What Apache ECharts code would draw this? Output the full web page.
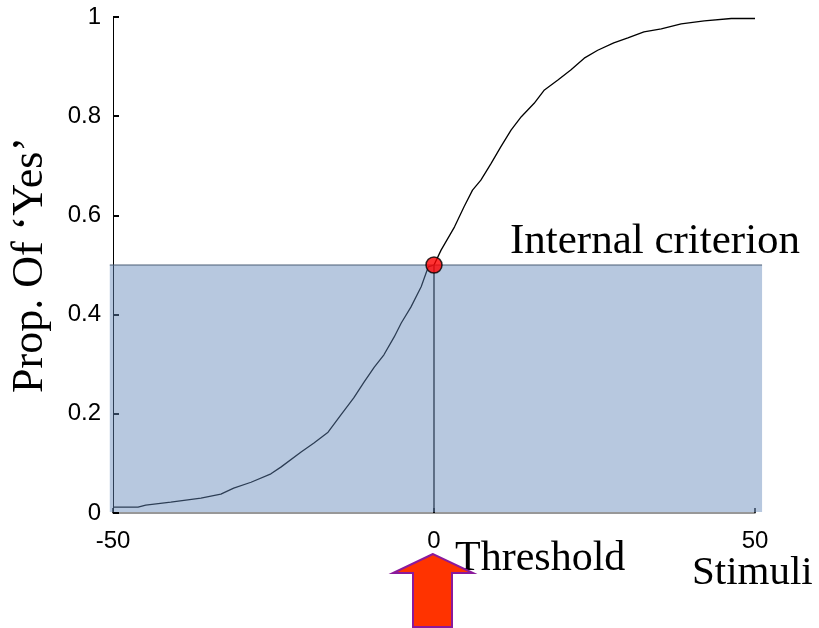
<!DOCTYPE html>
<html>
<head>
<meta charset="utf-8">
<script src="https://cdn.jsdelivr.net/npm/echarts@6/dist/echarts.min.js"></script>
<style>
  html, body { margin: 0; padding: 0; background: #fff; }
  #chart { width: 819px; height: 628px; }
</style>
</head>
<body>
<div id="chart"></div>
<script>
// psychometric curve
const stimX = [-50, -46.1, -44.9, -41, -36.3, -33.2, -31.2, -28.5, -25.4, -23.8, -20.7, -18.7, -16.5,
  -14.5, -12.5, -10.9, -9.3, -7.8, -6.2, -5.1, -3.6, -2.0, -0.9, 0, 1.1, 3.2, 4.7, 6.0, 7.3, 8.9,
  10.4, 12.0, 13.6, 15.6, 17.2, 19.3, 21.3, 23.4, 25.5, 28.0, 30.2, 32.7, 35.4, 38.5, 42.1, 46.3, 50];
const propYes = [0.012, 0.012, 0.016, 0.022, 0.030, 0.038, 0.050, 0.062, 0.079, 0.093, 0.123, 0.141, 0.163,
  0.198, 0.232, 0.264, 0.294, 0.319, 0.355, 0.383, 0.415, 0.456, 0.496, 0.5, 0.530, 0.577, 0.618, 0.651,
  0.671, 0.705, 0.738, 0.772, 0.799, 0.826, 0.853, 0.873, 0.893, 0.917, 0.933, 0.948, 0.958, 0.970,
  0.976, 0.986, 0.992, 0.997, 0.997];

const xTicks = [-50, 0, 50];
const criterion = 0.5;           // internal criterion level
const threshold = 0;             // stimulus at threshold
const criterionSpan = [-50.5, 51.1];

const chart = echarts.init(document.getElementById("chart"));

// shaded box below the criterion, drawn through the axes
function renderBox(params, api) {
  const p0 = api.coord([criterionSpan[0], criterion]);
  const p1 = api.coord([criterionSpan[1], 0]);
  return {
    type: "group",
    children: [
      {
        type: "rect",
        shape: { x: p0[0], y: p0[1], width: p1[0] - p0[0], height: p1[1] - p0[1] - 1 },
        style: { fill: "rgba(98,135,185,0.46)" }
      },
      {
        type: "line",
        shape: { x1: p0[0], y1: p0[1], x2: p1[0], y2: p0[1] },
        style: { stroke: "#4a5c75", lineWidth: 1 }
      }
    ]
  };
}

const option = {
  animation: false,
  grid: { left: 113, right: 64, top: 17, bottom: 115, outerBoundsMode: "none", containLabel: false },
  xAxis: {
    type: "value",
    min: xTicks[0],
    max: xTicks[xTicks.length - 1],
    interval: 50,
    splitLine: { show: false },
    axisLine: { onZero: false, lineStyle: { color: "#777", width: 1.5 } },
    axisTick: { inside: true, length: 5, lineStyle: { color: "#000", width: 1.5 } },
    axisLabel: { color: "#000", fontSize: 24, fontFamily: "Liberation Sans", margin: 16 }
  },
  yAxis: {
    type: "value",
    min: 0,
    max: 1,
    interval: 0.2,
    name: "Prop. Of \u2018Yes\u2019",
    nameLocation: "middle",
    nameRotate: 90,
    nameGap: 61,
    nameTextStyle: { color: "#000", fontSize: 44, fontFamily: "Liberation Serif" },
    splitLine: { show: false },
    axisLine: { onZero: false, lineStyle: { color: "#000", width: 1 } },
    axisTick: { inside: true, length: 6, lineStyle: { color: "#000", width: 2 } },
    axisLabel: { color: "#000", fontSize: 24, fontFamily: "Liberation Sans", margin: 12 }
  },
  series: [
    {
      name: "curve",
      type: "line",
      data: stimX.map((x, i) => [x, propYes[i]]),
      showSymbol: false,
      lineStyle: { color: "#000", width: 1.3 },
      z: 2
    },
    {
      name: "threshold",
      type: "line",
      data: [[threshold, 0], [threshold, criterion]],
      showSymbol: false,
      lineStyle: { color: "#000", width: 1.3 },
      z: 2
    },
    {
      name: "box",
      type: "custom",
      renderItem: renderBox,
      data: [[criterionSpan[0], criterion]],
      clip: false,
      silent: true,
      z: 5
    },
    {
      name: "point",
      type: "scatter",
      data: [[threshold, criterion]],
      symbolSize: 16,
      itemStyle: { color: "#ff0000", borderColor: "#000", borderWidth: 1.5 },
      z: 10
    }
  ],
  graphic: [
    {
      type: "text", x: 510, y: 242,
      style: { text: "Internal criterion", fontSize: 43, fontFamily: "Liberation Serif", fill: "#000", verticalAlign: "middle" }
    },
    {
      type: "text", x: 455, y: 559,
      style: { text: "Threshold", fontSize: 42, fontFamily: "Liberation Serif", fill: "#000", verticalAlign: "middle" }
    },
    {
      type: "text", x: 692, y: 573,
      style: { text: "Stimuli", fontSize: 41, fontFamily: "Liberation Serif", fill: "#000", verticalAlign: "middle" }
    },
    {
      type: "polygon",
      shape: { points: [[433, 554], [393, 573], [413, 573], [413, 627], [452, 627], [452, 573], [473, 573]] },
      style: { fill: "#ff3300", stroke: "#8b1a9b", lineWidth: 2 },
      z: 20
    }
  ]
};

chart.setOption(option);
</script>
</body>
</html>
